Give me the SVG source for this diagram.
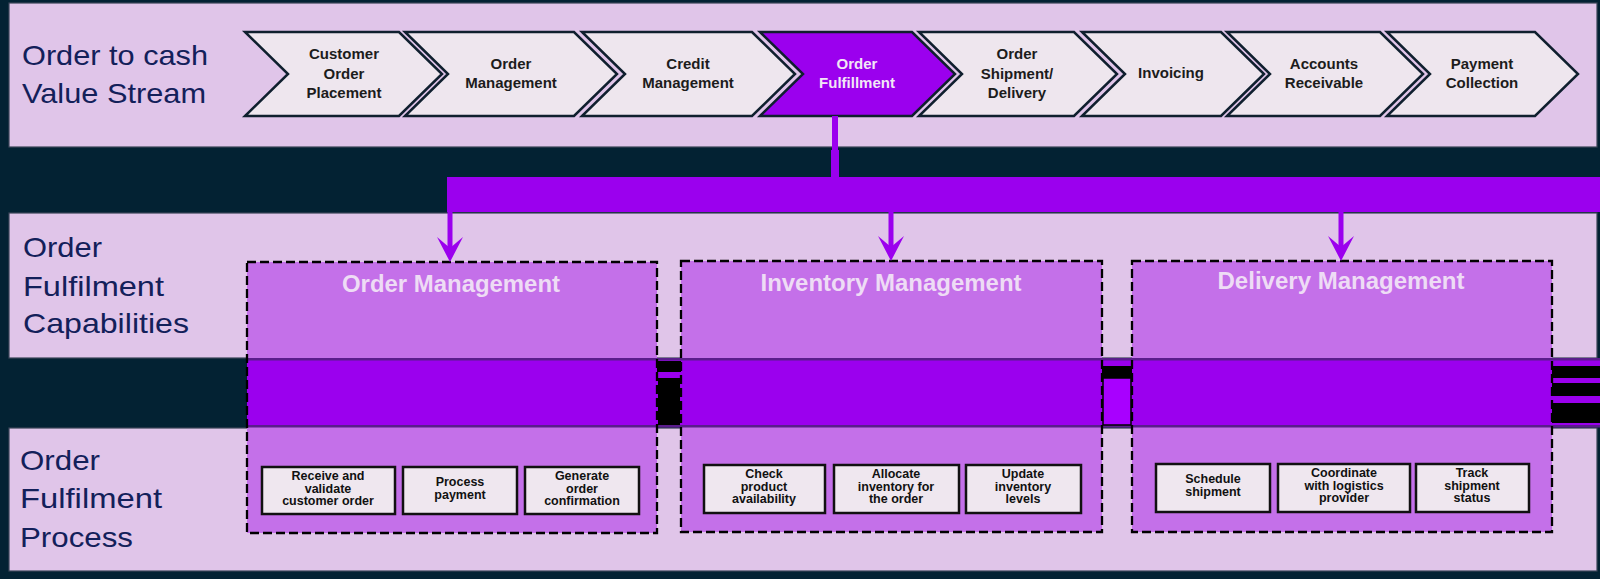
<svg xmlns="http://www.w3.org/2000/svg" width="1600" height="579" viewBox="0 0 1600 579">
<defs>
<style>
.band{fill:#e0c5e9;stroke:#3a4558;stroke-width:1.2}
.lbl{font-family:"Liberation Sans",Arial,sans-serif;font-size:28px;fill:#13205a}
.chev{fill:#eee6ee;stroke:#0f1f2e;stroke-width:2.5;stroke-linejoin:miter}
.chev-on{fill:#9b00ee;stroke:#0f1f2e;stroke-width:2.5}
.ct{font-family:"Liberation Sans",Arial,sans-serif;font-size:15px;font-weight:bold;fill:#1c1c1c;text-anchor:middle}
.ct-on{font-family:"Liberation Sans",Arial,sans-serif;font-size:15px;font-weight:bold;fill:#f2e6f6;text-anchor:middle}
.capfill{fill:#c470e9}
.capline{fill:none;stroke:#000;stroke-width:2.3;stroke-dasharray:9 4}
.title{font-family:"Liberation Sans",Arial,sans-serif;font-size:23px;font-weight:bold;fill:#eedcf5;text-anchor:middle}
.pbox{fill:#efe7ef;stroke:#111;stroke-width:2.5}
.pt{font-family:"Liberation Sans",Arial,sans-serif;font-size:12.5px;font-weight:bold;fill:#111;text-anchor:middle}
.conn{stroke:#9b00ee;stroke-width:5;fill:none}
</style>
<marker id="ah" viewBox="0 -13 25 26" refX="13" refY="0" markerWidth="25" markerHeight="26" markerUnits="userSpaceOnUse" orient="auto">
<path d="M0,-13 L25,0 L0,13 L11,0 Z" fill="#9b00ee"/>
</marker>
</defs>
<rect x="0" y="0" width="1600" height="579" fill="#032233"/>

<g id="band-value-stream">
<rect class="band" x="9" y="3" width="1588" height="144"/>
<text class="lbl" x="22" y="65" textLength="186" lengthAdjust="spacingAndGlyphs">Order to cash</text>
<text class="lbl" x="22" y="103" textLength="184" lengthAdjust="spacingAndGlyphs">Value Stream</text>
</g>

<g id="band-capabilities">
<rect class="band" x="9" y="213" width="1588" height="145"/>
<text class="lbl" x="23" y="257" textLength="79" lengthAdjust="spacingAndGlyphs">Order</text>
<text class="lbl" x="23" y="296" textLength="141" lengthAdjust="spacingAndGlyphs">Fulfilment</text>
<text class="lbl" x="23" y="333" textLength="166" lengthAdjust="spacingAndGlyphs">Capabilities</text>
</g>

<g id="band-process">
<rect class="band" x="9" y="428" width="1588" height="143"/>
<text class="lbl" x="20" y="470" textLength="80" lengthAdjust="spacingAndGlyphs">Order</text>
<text class="lbl" x="20" y="508" textLength="142" lengthAdjust="spacingAndGlyphs">Fulfilment</text>
<text class="lbl" x="20" y="547" textLength="113" lengthAdjust="spacingAndGlyphs">Process</text>
</g>

<g id="step-customer-order-placement">
<path class="chev" d="M245,32 H399 L442,74 L399,116 H245 L288,74 Z"/>
<text class="ct" x="344" y="59">Customer</text>
<text class="ct" x="344" y="79">Order</text>
<text class="ct" x="344" y="98">Placement</text>
</g>
<g id="step-order-management">
<path class="chev" d="M405,32 H574 L617,74 L574,116 H405 L448,74 Z"/>
<text class="ct" x="511" y="69">Order</text>
<text class="ct" x="511" y="88">Management</text>
</g>
<g id="step-credit-management">
<path class="chev" d="M582,32 H752 L795,74 L752,116 H582 L625,74 Z"/>
<text class="ct" x="688" y="69">Credit</text>
<text class="ct" x="688" y="88">Management</text>
</g>
<g id="step-order-fulfillment">
<path class="chev-on" d="M760,32 H912 L955,74 L912,116 H760 L803,74 Z"/>
<text class="ct-on" x="857" y="69">Order</text>
<text class="ct-on" x="857" y="88">Fulfillment</text>
</g>
<g id="step-order-shipment">
<path class="chev" d="M919,32 H1074 L1117,74 L1074,116 H919 L962,74 Z"/>
<text class="ct" x="1017" y="59">Order</text>
<text class="ct" x="1017" y="79">Shipment/</text>
<text class="ct" x="1017" y="98">Delivery</text>
</g>
<g id="step-invoicing">
<path class="chev" d="M1082,32 H1221 L1264,74 L1221,116 H1082 L1125,74 Z"/>
<text class="ct" x="1171" y="78">Invoicing</text>
</g>
<g id="step-accounts-receivable">
<path class="chev" d="M1227,32 H1380 L1423,74 L1380,116 H1227 L1270,74 Z"/>
<text class="ct" x="1324" y="69">Accounts</text>
<text class="ct" x="1324" y="88">Receivable</text>
</g>
<g id="step-payment-collection">
<path class="chev" d="M1387,32 H1535 L1578,74 L1535,116 H1387 L1430,74 Z"/>
<text class="ct" x="1482" y="69">Payment</text>
<text class="ct" x="1482" y="88">Collection</text>
</g>

<g id="cap-order-management-fill"><rect class="capfill" x="247" y="262" width="410" height="271"/></g>
<g id="cap-inventory-management-fill"><rect class="capfill" x="681" y="261" width="421" height="271"/></g>
<g id="cap-delivery-management-fill"><rect class="capfill" x="1132" y="261" width="420" height="271"/></g>

<g id="mid-bar">
<rect x="247" y="359" width="1353" height="68" fill="#9b00ee"/>
<rect x="247" y="358" width="1353" height="2.5" fill="#5a1d8c"/>
<rect x="247" y="425" width="1353" height="2.5" fill="#5a1d8c"/>
<rect x="657" y="361" width="24" height="11" fill="#000"/>
<rect x="658" y="378" width="22" height="47" fill="#000"/>
<rect x="1102" y="366" width="30" height="12" fill="#000"/>
<rect x="1103" y="378" width="28" height="47" fill="#a800ff" stroke="#000" stroke-width="1.5"/>
<rect x="1552" y="366" width="48" height="12" fill="#000"/>
<rect x="1552" y="383" width="48" height="13" fill="#000"/>
<rect x="1552" y="403" width="48" height="20" fill="#000"/>
</g>

<g id="cap-order-management">
<rect class="capline" x="247" y="262" width="410" height="271"/>
<text class="title" x="451" y="292" textLength="218" lengthAdjust="spacingAndGlyphs">Order Management</text>
</g>
<g id="cap-inventory-management">
<rect class="capline" x="681" y="261" width="421" height="271"/>
<text class="title" x="891" y="291" textLength="261" lengthAdjust="spacingAndGlyphs">Inventory Management</text>
</g>
<g id="cap-delivery-management">
<rect class="capline" x="1132" y="261" width="420" height="271"/>
<text class="title" x="1341" y="289" textLength="247" lengthAdjust="spacingAndGlyphs">Delivery Management</text>
</g>

<g id="proc-receive-validate">
<rect class="pbox" x="262" y="467" width="133" height="47"/>
<text class="pt" x="328" y="480">Receive and</text>
<text class="pt" x="328" y="492.5">validate</text>
<text class="pt" x="328" y="505">customer order</text>
</g>
<g id="proc-process-payment">
<rect class="pbox" x="403" y="467" width="114" height="47"/>
<text class="pt" x="460" y="486">Process</text>
<text class="pt" x="460" y="499">payment</text>
</g>
<g id="proc-generate-confirmation">
<rect class="pbox" x="525" y="467" width="114" height="47"/>
<text class="pt" x="582" y="480">Generate</text>
<text class="pt" x="582" y="492.5">order</text>
<text class="pt" x="582" y="505">confirmation</text>
</g>
<g id="proc-check-availability">
<rect class="pbox" x="704" y="465" width="121" height="48"/>
<text class="pt" x="764" y="478">Check</text>
<text class="pt" x="764" y="490.5">product</text>
<text class="pt" x="764" y="503">availability</text>
</g>
<g id="proc-allocate-inventory">
<rect class="pbox" x="834" y="465" width="125" height="48"/>
<text class="pt" x="896" y="478">Allocate</text>
<text class="pt" x="896" y="490.5">inventory for</text>
<text class="pt" x="896" y="503">the order</text>
</g>
<g id="proc-update-inventory">
<rect class="pbox" x="966" y="465" width="115" height="48"/>
<text class="pt" x="1023" y="478">Update</text>
<text class="pt" x="1023" y="490.5">inventory</text>
<text class="pt" x="1023" y="503">levels</text>
</g>
<g id="proc-schedule-shipment">
<rect class="pbox" x="1156" y="464" width="114" height="48"/>
<text class="pt" x="1213" y="483">Schedule</text>
<text class="pt" x="1213" y="496">shipment</text>
</g>
<g id="proc-coordinate-logistics">
<rect class="pbox" x="1278" y="464" width="132" height="48"/>
<text class="pt" x="1344" y="477">Coordinate</text>
<text class="pt" x="1344" y="489.5">with logistics</text>
<text class="pt" x="1344" y="502">provider</text>
</g>
<g id="proc-track-shipment">
<rect class="pbox" x="1416" y="464" width="113" height="48"/>
<text class="pt" x="1472" y="477">Track</text>
<text class="pt" x="1472" y="489.5">shipment</text>
<text class="pt" x="1472" y="502">status</text>
</g>

<g id="connectors">
<rect x="832" y="116" width="6" height="62" fill="#9b00ee"/>
<rect x="831" y="150" width="8" height="28" fill="#9b00ee"/>
<rect x="447" y="177" width="1153" height="35" fill="#9b00ee"/>
<line class="conn" x1="450" y1="211" x2="450" y2="250" marker-end="url(#ah)"/>
<line class="conn" x1="891" y1="211" x2="891" y2="249" marker-end="url(#ah)"/>
<line class="conn" x1="1341" y1="211" x2="1341" y2="249" marker-end="url(#ah)"/>
</g>
</svg>
